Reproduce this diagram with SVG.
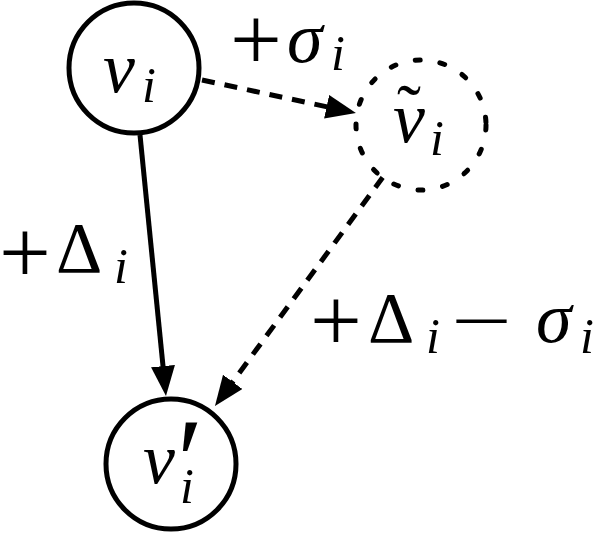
<svg xmlns="http://www.w3.org/2000/svg" width="600" height="534" viewBox="0 0 600 534">
<style>
text{fill:#000}
.node{fill:#fff;stroke:#000;stroke-width:5}
.dash{stroke-dasharray:5 20;stroke-linecap:round}
.edge{fill:none;stroke:#000;stroke-width:5}
.dl{stroke-dasharray:13 10}
</style>
<defs>
<marker id="ah" markerUnits="userSpaceOnUse" viewBox="0 0 30 24" markerWidth="30" markerHeight="24" refX="10" refY="12" orient="auto">
<path d="M0,0 L30,12 L0,24 z" fill="#000"/>
</marker>
</defs>
<g id="connectors">
<line class="edge dl" x1="202" y1="80" x2="336.4" y2="108.8" marker-end="url(#ah)"/>
<line class="edge" x1="140" y1="135" x2="164" y2="376.1" marker-end="url(#ah)"/>
<line class="edge dl" x1="383" y1="177" x2="226.8" y2="389.9" marker-end="url(#ah)"/>
</g>
<g font-family="'Liberation Serif', 'Times New Roman', serif" font-size="72">
<g id="v_i">
<circle class="node" cx="134" cy="68" r="65"/>
<text font-style="italic" x="103" y="92">v</text>
<text font-style="italic" font-size="50" x="142" y="102">i</text>
</g>
<g id="v_tilde">
<circle class="node dash" cx="421" cy="125" r="65"/>
<text font-style="italic" x="393" y="142">v</text>
<text x="397" y="134">˜</text>
<text font-style="italic" font-size="50" x="430" y="155">i</text>
</g>
<g id="v_prime">
<circle class="node" cx="171" cy="464" r="65"/>
<text font-style="italic" x="143" y="483">v</text>
<text font-size="120" x="177" y="502">′</text>
<text font-style="italic" font-size="50" x="180" y="503">i</text>
</g>
<g id="labels">
<text font-size="92" x="230" y="70">+</text>
<text font-style="italic" x="287" y="62">σ</text>
<text font-style="italic" font-size="50" x="331" y="70">i</text>
<text font-size="92" x="-1" y="283">+</text>
<text x="56" y="272">Δ</text>
<text font-style="italic" font-size="50" x="114" y="283">i</text>
<text font-size="92" x="310" y="351">+</text>
<text x="368" y="342">Δ</text>
<text font-style="italic" font-size="50" x="426" y="353">i</text>
<text transform="translate(451,345) scale(1.5,1)">−</text>
<text font-style="italic" x="536" y="342">σ</text>
<text font-style="italic" font-size="50" x="580" y="353">i</text>
</g>
</g>
</svg>
